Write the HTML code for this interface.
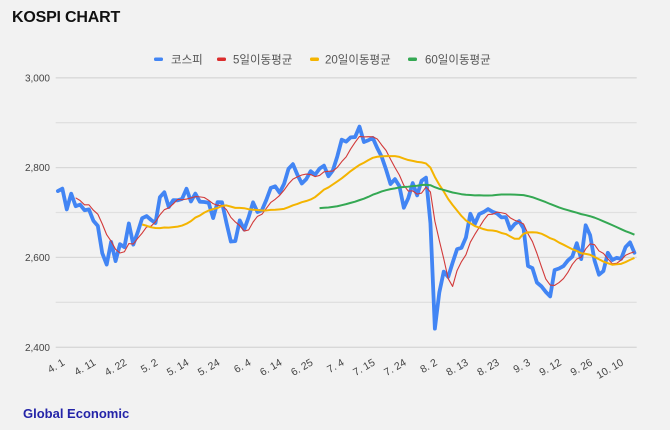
<!DOCTYPE html>
<html>
<head>
<meta charset="utf-8">
<style>
  html,body{margin:0;padding:0;background:#f2f2f2;}
  body{width:670px;height:430px;overflow:hidden;}
  svg{display:block;}
  .ax{font-family:"Liberation Sans",Arial,sans-serif;font-size:10px;fill:#444;}
  .xl{font-family:"Liberation Sans",Arial,sans-serif;font-size:10.5px;fill:#444;}
  .lg{font-family:"Liberation Sans","Noto Sans CJK KR","NanumGothic",sans-serif;font-size:11.5px;fill:#555;}
</style>
</head>
<body>
<svg id="c" width="670" height="430" viewBox="0 0 670 430" xmlns="http://www.w3.org/2000/svg">
  <rect x="0" y="0" width="670" height="430" fill="#f2f2f2"/>
  <text x="12" y="22" font-family="Liberation Sans, Arial, sans-serif" font-size="16" font-weight="bold" fill="#111" letter-spacing="-0.2">KOSPI CHART</text>

  <!-- legend -->
  <rect x="154" y="57.5" width="9" height="3.5" rx="1.5" fill="#4285f4"/>
  <text class="lg" x="171" y="63.5">코스피</text>
  <rect x="217" y="57.5" width="9" height="3.5" rx="1.5" fill="#db2d2d"/>
  <text class="lg" x="233" y="63.5">5일이동평균</text>
  <rect x="310" y="57.5" width="9" height="3.5" rx="1.5" fill="#f4b400"/>
  <text class="lg" x="325" y="63.5">20일이동평균</text>
  <rect x="408" y="57.5" width="9" height="3.5" rx="1.5" fill="#34a853"/>
  <text class="lg" x="425" y="63.5">60일이동평균</text>

  <!-- gridlines -->
  <g stroke="#d8d8d8" stroke-width="1.3">
    <line x1="55.7" y1="77.8" x2="636.7" y2="77.8"/>
    <line x1="55.7" y1="122.7" x2="636.7" y2="122.7" stroke="#e0e0e0"/>
    <line x1="55.7" y1="167.6" x2="636.7" y2="167.6"/>
    <line x1="55.7" y1="212.5" x2="636.7" y2="212.5" stroke="#e0e0e0"/>
    <line x1="55.7" y1="257.4" x2="636.7" y2="257.4"/>
    <line x1="55.7" y1="302.3" x2="636.7" y2="302.3" stroke="#e0e0e0"/>
    <line x1="55.7" y1="347.3" x2="636.7" y2="347.3"/>
  </g>

  <!-- y labels -->
  <text class="ax" x="50" y="81.3" text-anchor="end">3,000</text>
  <text class="ax" x="50" y="171.1" text-anchor="end">2,800</text>
  <text class="ax" x="50" y="260.9" text-anchor="end">2,600</text>
  <text class="ax" x="50" y="350.8" text-anchor="end">2,400</text>

  <!-- x labels -->
  <g class="xl" text-anchor="end">
    <text transform="translate(65.4,364.5) rotate(-30)">4. 1</text>
    <text transform="translate(96.4,364.5) rotate(-30)">4. 11</text>
    <text transform="translate(127.5,364.5) rotate(-30)">4. 22</text>
    <text transform="translate(158.5,364.5) rotate(-30)">5. 2</text>
    <text transform="translate(189.6,364.5) rotate(-30)">5. 14</text>
    <text transform="translate(220.6,364.5) rotate(-30)">5. 24</text>
    <text transform="translate(251.7,364.5) rotate(-30)">6. 4</text>
    <text transform="translate(282.7,364.5) rotate(-30)">6. 14</text>
    <text transform="translate(313.7,364.5) rotate(-30)">6. 25</text>
    <text transform="translate(344.8,364.5) rotate(-30)">7. 4</text>
    <text transform="translate(375.8,364.5) rotate(-30)">7. 15</text>
    <text transform="translate(406.9,364.5) rotate(-30)">7. 24</text>
    <text transform="translate(437.9,364.5) rotate(-30)">8. 2</text>
    <text transform="translate(469.0,364.5) rotate(-30)">8. 13</text>
    <text transform="translate(500.0,364.5) rotate(-30)">8. 23</text>
    <text transform="translate(531.1,364.5) rotate(-30)">9. 3</text>
    <text transform="translate(562.1,364.5) rotate(-30)">9. 12</text>
    <text transform="translate(593.2,364.5) rotate(-30)">9. 26</text>
    <text transform="translate(624.2,364.5) rotate(-30)">10. 10</text>
  </g>

  <!-- series -->
  <polyline id="s0" fill="none" stroke="#4285f4" stroke-width="3.8" stroke-linejoin="round" stroke-linecap="round" points=""/>
  <polyline id="s1" fill="none" stroke="#d23a3a" stroke-width="1.1" stroke-linejoin="round" points=""/>
  <polyline id="s2" fill="none" stroke="#f4b400" stroke-width="2" stroke-linejoin="round" points=""/>
  <polyline id="s3" fill="none" stroke="#34a853" stroke-width="2" stroke-linejoin="round" points=""/>

  <text x="23" y="418" font-family="Liberation Sans, Arial, sans-serif" font-size="13" font-weight="bold" fill="#2424a8">Global Economic</text>
</svg>
<script>
(function(){
var d=[2747.86,2753.16,2706.97,2742.00,2714.21,2717.65,2705.16,2706.96,2681.82,2670.43,
2609.63,2584.18,2634.70,2591.86,2629.44,2623.02,2675.75,2628.62,2656.33,2687.44,
2692.06,2683.65,2676.63,2734.36,2745.05,2712.14,2727.63,2727.21,2730.34,2753.00,
2724.62,2742.14,2724.18,2723.46,2721.81,2687.60,2722.99,2722.85,2677.30,2635.44,
2636.52,2682.52,2662.10,2689.50,2722.67,2701.17,2705.13,2728.17,2754.89,2758.42,
2744.10,2763.92,2797.33,2807.63,2784.06,2764.73,2774.39,2792.05,2784.26,2797.82,
2804.31,2780.86,2794.01,2824.94,2862.23,2857.76,2867.38,2867.99,2891.35,2857.00,
2860.92,2866.09,2843.69,2824.35,2795.46,2763.51,2774.29,2758.71,2710.65,2731.90,
2765.51,2738.19,2770.69,2777.68,2676.19,2441.55,2522.15,2568.41,2556.73,2588.43,
2618.30,2621.50,2644.50,2697.23,2674.36,2696.63,2701.13,2707.67,2701.69,2698.01,
2689.25,2689.83,2662.28,2674.31,2681.00,2664.63,2580.80,2576.20,2544.28,2535.93,
2523.43,2513.37,2572.09,2575.41,2580.80,2593.37,2602.01,2631.68,2596.32,2671.57,
2649.78,2593.27,2561.69,2569.71,2610.38,2594.36,2599.16,2596.91,2623.23,2633.45,2610.36];
function X(i){return 57.9+i*4.435;}
function Y(v){return 347.3-(v-2400)*0.4492;}
function pts(arr){var s=[];for(var i=0;i<arr.length;i++){if(arr[i]!==null)s.push(X(i).toFixed(2)+','+Y(arr[i]).toFixed(2));}return s.join(' ');}
function ma(n){var r=[];for(var i=0;i<d.length;i++){if(i<n-1){r.push(null);continue;}var s=0;for(var j=i-n+1;j<=i;j++)s+=d[j];r.push(s/n);}return r;}
document.getElementById('s0').setAttribute('points',pts(d));
document.getElementById('s1').setAttribute('points',pts(ma(5)));
document.getElementById('s2').setAttribute('points',pts(ma(20)));
document.getElementById('s3').setAttribute('points',pts(ma(60)));
})();
</script>
</body>
</html>
